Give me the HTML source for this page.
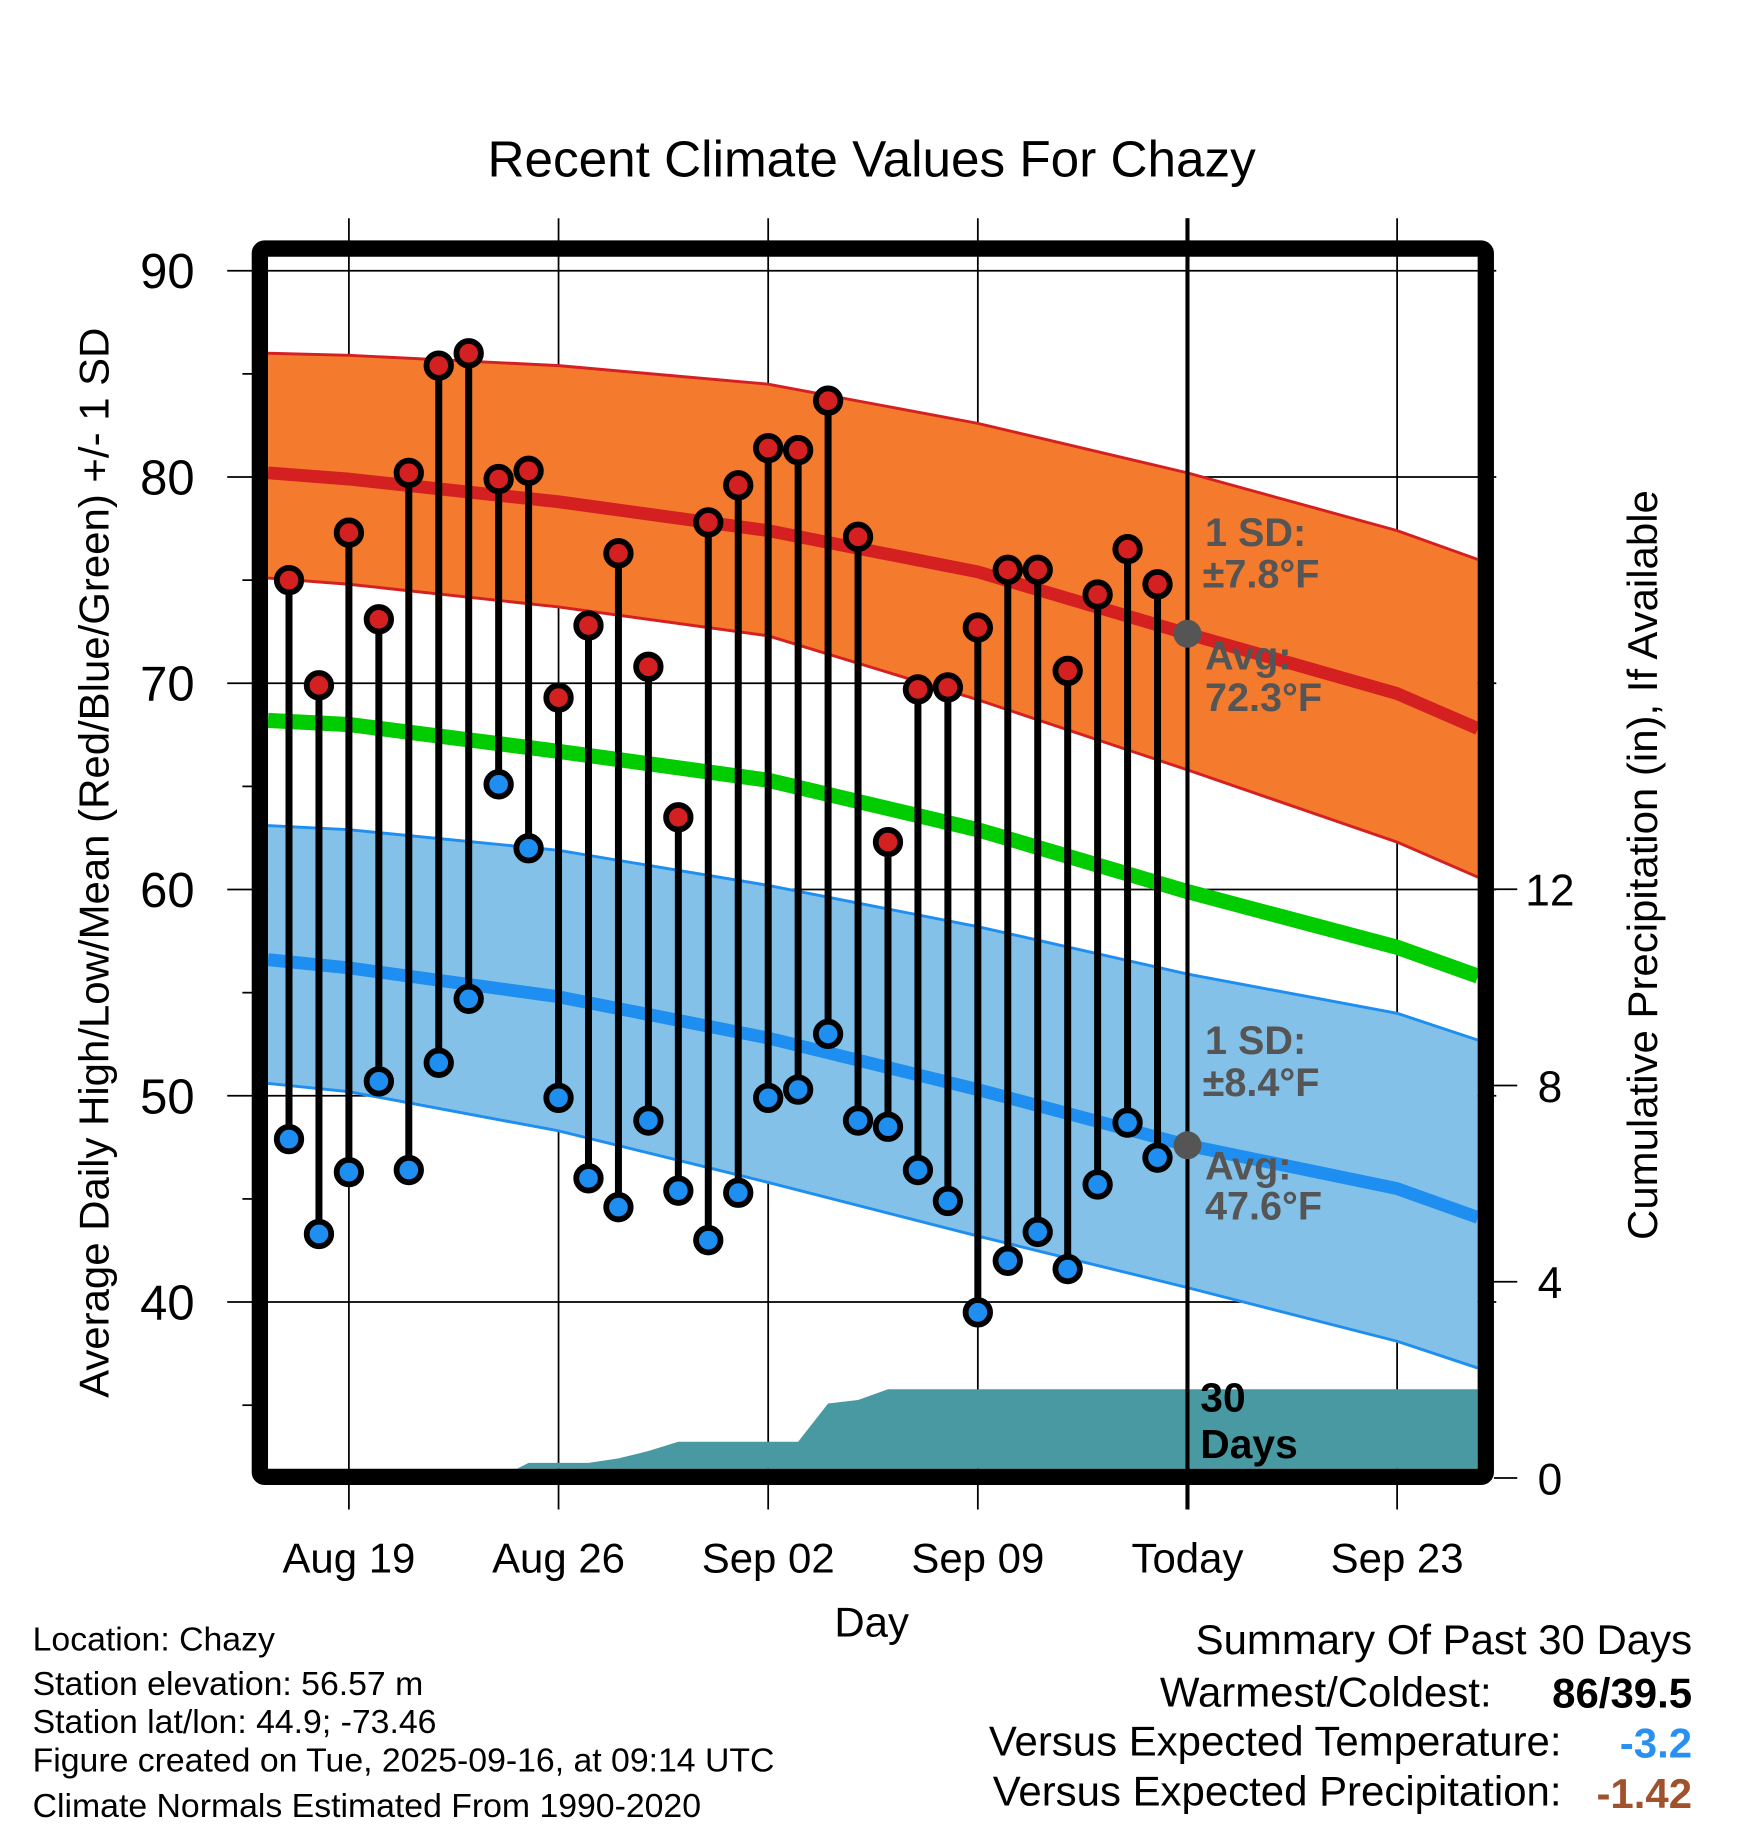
<!DOCTYPE html>
<html><head><meta charset="utf-8"><style>
html,body{margin:0;padding:0;background:#fff}
svg{display:block;font-family:"Liberation Sans",sans-serif}
</style></head><body>
<svg id="c" width="1748" height="1828" viewBox="0 0 1500 1568" xmlns="http://www.w3.org/2000/svg">
<defs><clipPath id="pc"><rect x="230" y="220" width="1038" height="1040"/></clipPath></defs>
<text x="748" y="151" font-size="44" text-anchor="middle">Recent Climate Values For Chazy</text>
<g id="grid"></g>
<g id="bands" clip-path="url(#pc)"></g>
<g id="marks"></g>
<rect x="223" y="213" width="1052" height="1054" fill="none" stroke="#000" stroke-width="14" rx="4"/>
<text transform="translate(93,740) rotate(-90)" font-size="36" text-anchor="middle">Average Daily High/Low/Mean (Red/Blue/Green) +/- 1 SD</text>
<text transform="translate(1422,742) rotate(-90)" font-size="36" text-anchor="middle">Cumulative Precipitation (in), If Available</text>
<text x="748" y="1404" font-size="36" text-anchor="middle">Day</text>
<g font-size="34" font-weight="bold" fill="#555">
<text x="1034" y="468">1 SD:</text><text x="1032" y="504">±7.8°F</text>
<text x="1034" y="574">Avg:</text><text x="1034" y="610">72.3°F</text>
<text x="1034" y="904">1 SD:</text><text x="1032" y="940">±8.4°F</text>
<text x="1034" y="1012">Avg:</text><text x="1034" y="1046">47.6°F</text></g>
<g font-size="35" font-weight="bold"><text x="1030" y="1211">30</text><text x="1030" y="1251">Days</text></g>
<g font-size="29">
<text x="28" y="1416">Location: Chazy</text>
<text x="28" y="1454">Station elevation: 56.57 m</text>
<text x="28" y="1487">Station lat/lon: 44.9; -73.46</text>
<text x="28" y="1520">Figure created on Tue, 2025-09-16, at 09:14 UTC</text>
<text x="28" y="1559">Climate Normals Estimated From 1990-2020</text></g>
<g font-size="36" text-anchor="end">
<text x="1452" y="1419">Summary Of Past 30 Days</text>
<text x="1280" y="1464">Warmest/Coldest:</text><text x="1452" y="1465" font-weight="bold">86/39.5</text>
<text x="1340" y="1506">Versus Expected Temperature:</text><text x="1452" y="1508" font-weight="bold" fill="#2a90f0">-3.2</text>
<text x="1340" y="1549">Versus Expected Precipitation:</text><text x="1452" y="1551" font-weight="bold" fill="#a0522d">-1.42</text></g>
</svg>
<script>
// data (day index 0 = Aug 17)
const highs=[75,69.9,77.3,73.1,80.2,85.4,86,79.9,80.3,69.3,72.8,76.3,70.8,63.5,77.8,79.6,81.4,81.3,83.7,77.1,62.3,69.7,69.8,72.7,75.5,75.5,70.6,74.3,76.5,74.8];
const lows=[47.9,43.3,46.3,50.7,46.4,51.6,54.7,65.1,62.0,49.9,46.0,44.6,48.8,45.4,43.0,45.3,49.9,50.3,53.0,48.8,48.5,46.4,44.9,39.5,42.0,43.4,41.6,45.7,48.7,47.0];
const precip=[0,0,0,0,0,0,0,0,0.31,0.31,0.31,0.40,0.55,0.74,0.74,0.74,0.74,0.74,1.52,1.59,1.81,1.81,1.81,1.81,1.81,1.81,1.81,1.81,1.81,1.81];
// normals sampled at these days (relative to Aug 17)
const normDays=[-0.7,2,9,16,23,30,37,39.7];
const redAvg=[80.2,79.9,78.8,77.4,75.4,72.4,69.5,67.8];
const redUp=[86.0,85.9,85.4,84.5,82.6,80.2,77.4,76.0];
const redLo=[75.1,74.8,73.7,72.3,69.2,65.8,62.3,60.6];
const green=[68.2,68.0,66.7,65.3,62.9,59.9,57.2,55.8];
const blueAvg=[56.6,56.2,54.8,52.8,50.3,47.6,45.5,44.1];
const blueUp=[63.1,62.9,61.9,60.2,58.2,55.9,54.0,52.7];
const blueLo=[50.6,50.2,48.3,45.8,43.2,40.7,38.1,36.8];
const yTicks=[40,50,60,70,80,90];
const y2Ticks=[0,4,8,12];
const xTickDays=[2,9,16,23,30,37];
const xTickLabels=["Aug 19","Aug 26","Sep 02","Sep 09","Today","Sep 23"];

const X=d=>248+25.7*d, Y=v=>232+(90-v)*17.7, Y2=p=>1268-p*42.1;
const NS="http://www.w3.org/2000/svg";
function mk(p,t,a){const e=document.createElementNS(NS,t);for(const k in a)e.setAttribute(k,a[k]);p.appendChild(e);return e;}
const grid=document.getElementById('grid'),bands=document.getElementById('bands'),marks=document.getElementById('marks');
yTicks.forEach(v=>{const l=mk(grid,'line',{x1:195,x2:1284,y1:Y(v),y2:Y(v),stroke:'#000','stroke-width':1.5});


const t=mk(grid,'text',{x:167,y:Y(v)+15,'font-size':42,'text-anchor':'end'});t.textContent=v;

});
[35,45,55,65,75,85].forEach(v=>{const l=mk(grid,'line',{x1:208,x2:218,y1:Y(v),y2:Y(v),stroke:'#000','stroke-width':1.5});

});
y2Ticks.forEach(p=>{const l=mk(grid,'line',{x1:1282,x2:1302,y1:Y2(p),y2:Y2(p),stroke:'#000','stroke-width':1.5});


const t=mk(grid,'text',{x:1330,y:Y2(p)+14,'font-size':38,'text-anchor':'middle'});t.textContent=p;

});
xTickDays.forEach((d,i)=>{const l=mk(grid,'line',{x1:X(d),x2:X(d),y1:187,y2:1295,stroke:'#000','stroke-width':1.5});


const t=mk(grid,'text',{x:X(d),y:1349,'font-size':36,'text-anchor':'middle'});t.textContent=xTickLabels[i];

});
function pts(arr){return normDays.map((d,i)=>X(d)+','+Y(arr[i]));}
function band(up,lo,fill,edge,name){const p=mk(bands,'polygon',{points:pts(up).concat(pts(lo).reverse()).join(' '),fill:fill});


[up,lo].forEach(a=>{const l=mk(bands,'polyline',{points:pts(a).join(' '),fill:'none',stroke:edge,'stroke-width':2.5,'stroke-linejoin':'round'});

});}
band(redUp,redLo,'#f47a2e','#d42020','high-sd-band');
band(blueUp,blueLo,'#84c1e8','#1e8ff0','low-sd-band');
[[redAvg,'#d42020','avg-high-line',11],[green,'#00cc00','avg-mean-line',13],[blueAvg,'#1e8ff0','avg-low-line',11]].forEach(([a,c,n,w])=>{
const l=mk(bands,'polyline',{points:pts(a).join(' '),fill:'none',stroke:c,'stroke-width':w,'stroke-linejoin':'round'});

});
let pp=[X(0)+','+Y2(0)];precip.forEach((p,i)=>pp.push(X(i)+','+Y2(p)));
pp.push(1268+','+Y2(precip[precip.length-1]),1268+','+Y2(0));
const pa=mk(bands,'polygon',{points:pp.join(' '),fill:'#4899a2'});


const tl=mk(marks,'line',{x1:X(30),x2:X(30),y1:187,y2:1295,stroke:'#000','stroke-width':3.5});


[redAvg,blueAvg].forEach(a=>{const c=mk(marks,'circle',{cx:X(30),cy:Y(a[5]),r:12,fill:'#555'});

});
highs.forEach((h,i)=>{const l=mk(marks,'line',{x1:X(i),x2:X(i),y1:Y(h),y2:Y(lows[i]),stroke:'#000','stroke-width':6});


const a=mk(marks,'circle',{cx:X(i),cy:Y(h),r:10.5,fill:'#d42020',stroke:'#000','stroke-width':5});


const b=mk(marks,'circle',{cx:X(i),cy:Y(lows[i]),r:10.5,fill:'#1e8ff0',stroke:'#000','stroke-width':5});

});
</script>
</body></html>
